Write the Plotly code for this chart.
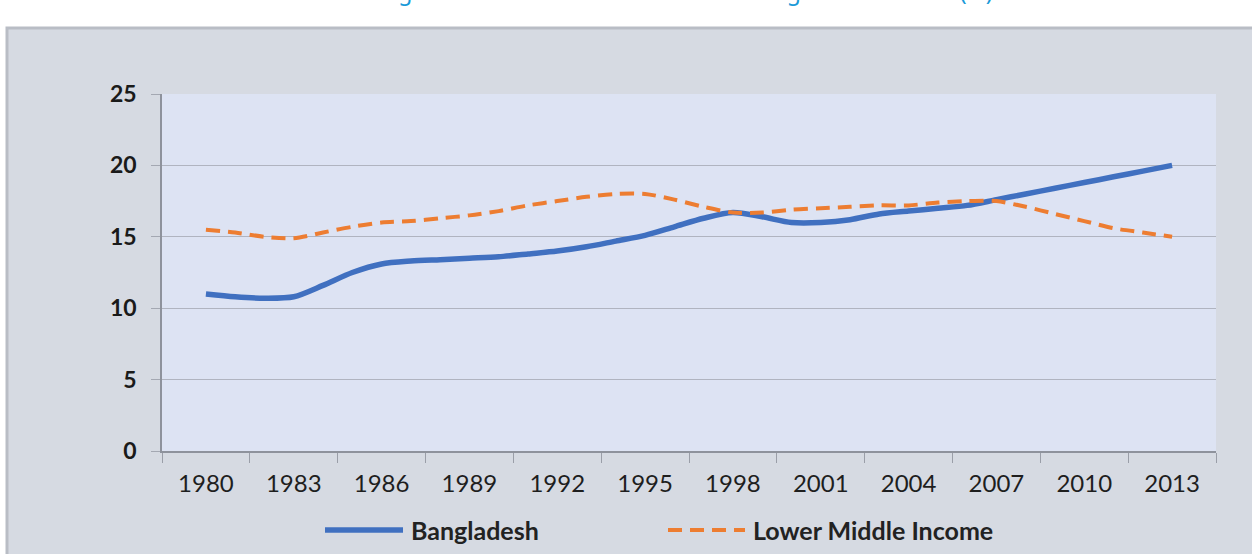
import plotly.graph_objects as go

# ---- data ----
years = list(range(1980, 2014))
bangladesh = [11.0, 10.8, 10.7, 10.8, 11.6, 12.5, 13.1, 13.3, 13.4, 13.5,
              13.6, 13.8, 14.0, 14.3, 14.7, 15.1, 15.7, 16.3, 16.7, 16.4,
              16.0, 16.0, 16.2, 16.6, 16.8, 17.0, 17.2, 17.6, 18.0, 18.4,
              18.8, 19.2, 19.6, 20.0]
lower_middle = [15.5, 15.3, 15.0, 14.9, 15.3, 15.7, 16.0, 16.1, 16.3, 16.5,
                16.8, 17.2, 17.5, 17.8, 18.0, 18.0, 17.6, 17.1, 16.7, 16.7,
                16.9, 17.0, 17.1, 17.2, 17.2, 17.4, 17.5, 17.5, 17.1, 16.6,
                16.1, 15.6, 15.3, 15.0]
tick_years = list(range(1980, 2014, 3))
y_ticks = [0, 5, 10, 15, 20, 25]
series_names = ["Bangladesh", "Lower Middle Income"]
title_text = "Manufacturing Value Added as Share of GDP: Bangladesh vs. LMI (%)"

# ---- layout geometry (pixels) ----
W, H = 1252, 554
PL, PR, PT, PB = 162, 1216, 94, 451


def px(x):
    return (x - PL) / (PR - PL)


def py(y):
    return (PB - y) / (PB - PT)


BLUE = "#4070c0"
ORANGE = "#ED7D31"
FONT = "Lato"

fig = go.Figure()
fig.add_trace(go.Scatter(
    x=years, y=bangladesh, name=series_names[0], mode="lines",
    line=dict(color=BLUE, width=5.5, shape="spline", smoothing=0.8),
    showlegend=False, hoverinfo="x+y+name"))
fig.add_trace(go.Scatter(
    x=years, y=lower_middle, name=series_names[1], mode="lines",
    line=dict(color=ORANGE, width=4, shape="spline", smoothing=0.8, dash="14px,8px"),
    showlegend=False, hoverinfo="x+y+name"))

shapes = [
    # grey chart panel
    dict(type="rect", xref="paper", yref="paper", layer="below",
         x0=px(7), x1=px(1260), y0=py(560), y1=py(28),
         fillcolor="#d6dae2", line=dict(color="#b9bdc5", width=3)),
    # plot area
    dict(type="rect", xref="paper", yref="paper", layer="below",
         x0=0, x1=1, y0=0, y1=1, fillcolor="#dde3f3", line=dict(width=0)),
    # legend samples
    dict(type="line", xref="paper", yref="paper",
         x0=px(325), x1=px(403), y0=py(530), y1=py(530),
         line=dict(color=BLUE, width=5.5)),
    dict(type="line", xref="paper", yref="paper",
         x0=px(668), x1=px(745), y0=py(530), y1=py(530),
         line=dict(color=ORANGE, width=4, dash="14px,8px")),
]

annotations = [
    dict(text=title_text, xref="paper", yref="paper", x=px(622), y=py(9),
         xanchor="center", yanchor="bottom", showarrow=False,
         font=dict(family="Noto Sans", size=23, color="#1a9ad8")),
    dict(text=series_names[0], xref="paper", yref="paper", x=px(409), y=py(530),
         xanchor="left", yanchor="middle", showarrow=False,
         font=dict(family=FONT, size=25, color="#222222", weight="bold")),
    dict(text=series_names[1], xref="paper", yref="paper", x=px(751), y=py(530),
         xanchor="left", yanchor="middle", showarrow=False,
         font=dict(family=FONT, size=25, color="#222222", weight="bold")),
]

fig.update_layout(
    width=W, height=H,
    margin=dict(l=PL, r=W - PR, t=PT, b=H - PB, pad=0),
    paper_bgcolor="white",
    plot_bgcolor="#dde3f3",
    shapes=shapes,
    annotations=annotations,
    showlegend=False,
    xaxis=dict(
        range=[1978.5, 2014.5],
        tickmode="array", tickvals=tick_years, ticktext=[str(t) for t in tick_years],
        ticks="outside", ticklen=0, tickcolor="#9a9ea8",
        ticklabelstandoff=10,
        tickfont=dict(family=FONT, size=24, color="#1e1e1e"),
        showgrid=False, zeroline=False,
        showline=True, linecolor="#8e929c", linewidth=1.5,
        minor=dict(tickmode="array",
                   tickvals=[1978.5 + 3 * k for k in range(13)],
                   ticks="outside", ticklen=10, tickcolor="#9a9ea8", tickwidth=1.2,
                   showgrid=False),
        fixedrange=True,
    ),
    yaxis=dict(
        range=[0, 25],
        tickmode="array", tickvals=y_ticks,
        ticks="outside", ticklen=9, tickcolor="#a4a8b2", tickwidth=1.2,
        ticklabelstandoff=10,
        tickfont=dict(family=FONT, size=23, color="#1a1a1a", weight="bold"),
        showgrid=True, gridcolor="#b0b4c0", gridwidth=1.3,
        zeroline=False,
        showline=True, linecolor="#8e929c", linewidth=1.5,
        fixedrange=True,
    ),
)

fig.write_html("out.html")
